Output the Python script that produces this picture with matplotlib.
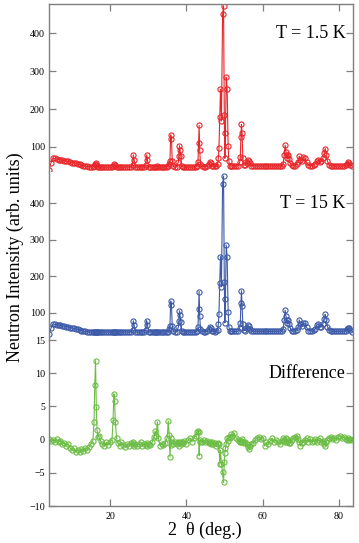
import matplotlib
matplotlib.use('Agg')
import matplotlib.pyplot as plt
import matplotlib.transforms as mtransforms

plt.rcParams['font.family'] = ['Liberation Serif', 'DejaVu Serif']

### data ###
two_theta = [
    4.0, 4.5, 5.0, 5.5, 6.0, 6.5, 7.0, 7.5, 8.0, 8.5,
    9.0, 9.5, 10.0, 10.5, 11.0, 11.5, 12.0, 12.5, 13.0, 13.5,
    14.0, 14.5, 15.0, 15.5, 15.8, 16.0, 16.2, 16.4, 16.6, 16.8,
    17.0, 17.5, 18.0, 18.5, 19.0, 19.5, 20.0, 20.5, 20.8, 21.0,
    21.2, 21.4, 21.7, 22.0, 22.5, 23.0, 23.5, 24.0, 24.5, 25.0,
    25.5, 25.9, 26.1, 26.3, 26.6, 27.0, 27.5, 28.0, 28.5, 29.0,
    29.4, 29.6, 29.8, 30.1, 30.5, 31.0, 31.5, 31.8, 32.1, 32.4,
    32.7, 33.1, 33.5, 34.0, 34.5, 35.0, 35.25, 35.5, 35.7, 35.9,
    36.1, 36.3, 36.6, 37.0, 37.5, 37.9, 38.05, 38.2, 38.35, 38.55,
    38.8, 39.0, 39.5, 40.0, 40.5, 41.0, 41.5, 42.0, 42.5, 42.8,
    43.05, 43.2, 43.35, 43.5, 43.7, 44.0, 44.5, 45.0, 45.5, 46.0,
    46.2, 46.4, 46.7, 47.0, 47.5, 47.9, 48.2, 48.4, 48.55, 48.75,
    48.95, 49.2, 49.5, 49.75, 49.95, 50.1, 50.25, 50.45, 50.7, 50.95,
    51.15, 51.4, 51.7, 52.0, 52.5, 53.0, 53.5, 54.0, 54.15, 54.3,
    54.45, 54.6, 54.8, 55.0, 55.5, 55.8, 56.1, 56.4, 56.7, 57.0,
    57.5, 58.0, 58.5, 59.0, 59.5, 60.0, 60.5, 61.0, 61.5, 62.0,
    62.5, 63.0, 63.5, 64.0, 64.5, 65.0, 65.4, 65.65, 65.9, 66.1,
    66.3, 66.5, 66.7, 66.9, 67.2, 67.6, 68.0, 68.5, 68.9, 69.3,
    69.6, 69.9, 70.3, 70.7, 71.1, 71.5, 72.0, 72.5, 73.0, 73.5,
    73.8, 74.2, 74.6, 75.0, 75.4, 75.8, 76.1, 76.4, 76.7, 77.0,
    77.4, 77.8, 78.3, 78.8, 79.3, 79.8, 80.3, 80.8, 81.3, 81.8,
    82.1, 82.4, 82.7, 83.0, 83.5,
]

counts_1p5K = [
    39, 58, 70, 70, 68, 67, 66, 65, 64, 63,
    62, 60, 59, 58, 57, 55, 54, 52, 51, 50,
    49, 48, 48, 47, 50, 55, 58, 52, 49, 48,
    48, 47, 47, 47, 47, 47, 47, 47, 50, 54,
    52, 49, 47, 47, 47, 47, 47, 47, 47, 47,
    47, 52, 79, 66, 48, 47, 47, 47, 47, 47,
    52, 79, 66, 48, 47, 47, 47, 48, 48, 49,
    48, 47, 47, 47, 47, 48, 50, 56, 62, 132,
    122, 64, 49, 47, 48, 60, 76, 103, 92, 75,
    50, 48, 47, 47, 47, 47, 47, 47, 48, 50,
    61, 110, 157, 92, 56, 49, 48, 48, 49, 56,
    61, 58, 51, 49, 49, 50, 55, 72, 97, 180,
    252, 169, 450, 472, 185, 70, 136, 284, 254, 103,
    62, 51, 50, 50, 50, 50, 50, 60, 74, 126,
    160, 136, 70, 53, 52, 58, 66, 64, 57, 51,
    50, 50, 50, 50, 50, 50, 50, 50, 50, 50,
    50, 50, 50, 50, 50, 51, 56, 80, 105, 88,
    79, 70, 80, 68, 58, 52, 50, 51, 54, 60,
    76, 66, 64, 74, 70, 60, 52, 51, 51, 53,
    56, 62, 66, 60, 62, 70, 83, 96, 80, 62,
    53, 51, 50, 50, 50, 50, 50, 50, 50, 52,
    56, 60, 58, 53, 49,
]

counts_15K = [
    41, 57, 69, 68, 67, 66, 65, 64, 63, 62,
    61, 59, 58, 57, 56, 54, 53, 51, 50, 49,
    48, 47, 47, 47, 47, 47, 47, 47, 47, 47,
    47, 47, 47, 47, 47, 47, 47, 47, 47, 47,
    47, 47, 47, 47, 47, 47, 47, 47, 47, 47,
    47, 52, 78, 66, 48, 47, 47, 47, 47, 47,
    52, 78, 67, 48, 47, 47, 47, 47, 47, 47,
    47, 47, 47, 47, 47, 47, 48, 55, 64, 132,
    121, 64, 49, 47, 48, 60, 76, 105, 93, 74,
    50, 48, 47, 47, 47, 47, 47, 47, 48, 50,
    60, 110, 158, 92, 56, 49, 48, 48, 49, 56,
    61, 58, 51, 49, 48, 50, 53, 69, 96, 182,
    254, 171, 453, 475, 185, 72, 137, 286, 252, 103,
    62, 50, 49, 49, 49, 49, 49, 58, 72, 126,
    160, 118, 70, 52, 51, 57, 65, 63, 56, 50,
    49, 49, 49, 49, 49, 49, 49, 49, 49, 49,
    49, 49, 49, 49, 49, 50, 55, 80, 107, 92,
    80, 72, 80, 70, 58, 51, 49, 50, 53, 60,
    80, 68, 64, 72, 71, 60, 51, 50, 50, 52,
    55, 66, 68, 60, 61, 70, 84, 96, 80, 62,
    52, 50, 49, 49, 49, 49, 49, 49, 49, 51,
    55, 58, 57, 52, 48,
]

difference = [
    0.1, -0.2, 0.0, -0.3, 0.1, -0.4, -0.2, -0.7, -0.5, -1.0,
    -0.6, -1.2, -1.6, -1.3, -1.9, -1.5, -1.8, -1.4, -1.7, -1.2,
    -1.5, -1.1, -0.6, -0.2, 2.7, 8.3, 11.9, 4.9, 1.4, 0.4,
    0.6, -0.2, -0.6, -1.0, -0.4, -0.8, -0.3, -0.1, 3.0, 6.9,
    5.8, 2.6, 0.3, -0.5, -0.9, -0.4, -0.8, -1.1, -0.6, -0.9,
    -0.5, -0.7, -0.3, -0.9, -0.6, -1.0, -0.7, -0.4, -0.9, -0.6,
    -0.8, -0.5, -1.0, -0.6, -0.8, -0.4, 0.4, 1.3, 0.6, 2.7,
    0.2, -0.9, -0.6, -0.8, -0.5, 0.3, 2.8, 0.7, -2.6, 0.2,
    -0.8, -0.4, -0.6, -0.3, -0.6, -0.3, -0.5, -0.9, -0.4, -0.7,
    -0.3, -0.5, -0.2, -0.6, -0.1, 0.2, -0.3, 0.3, 0.6, 1.1,
    1.3, 1.2, -2.4, -0.4, 0.0, -0.3, -0.1, -0.4, -0.2, -0.5,
    -0.3, -0.6, -0.4, -0.7, -0.5, -0.95, -0.6, -0.5, -0.7, -3.7,
    -1.6, -3.7, -4.95, -6.45, -3.4, -2.0, -1.2, -0.6, 0.2, -0.2,
    0.4, 0.3, 0.8, 0.5, 1.0, 0.3, -0.1, -0.3, -0.2, -0.4,
    -0.2, 0.1, -0.3, -0.5, -0.4, -0.7, -1.1, -1.45, -0.9, -0.6,
    -0.45, -0.1, 0.2, 0.4, 0.1, 0.3, -0.95, -0.4, -0.6, -0.2,
    0.2, -0.3, 0.0, -0.4, -0.7, -0.2, 0.3, -0.1, -0.4, 0.2,
    -0.3, 0.1, -0.2, -0.5, -0.45, -0.1, 0.2, 0.4, 0.55, 0.1,
    -0.4, -0.95, -0.5, -0.3, 0.0, 0.2, -0.3, 0.1, -0.4, -0.2,
    0.1, -0.3, 0.0, 0.2, -0.4, -0.2, -0.6, -0.95, -0.4, 0.0,
    0.3, 0.4, 0.1, 0.3, 0.0, 0.4, 0.55, 0.2, 0.4, 0.1,
    0.0, 0.2, -0.1, 0.1, 0.0,
]

panel_labels = ['T = 1.5 K', 'T = 15 K', 'Difference']
x_ticks = [20, 40, 60, 80]

### panel setup ###
series = [counts_1p5K, counts_15K, difference]
colors = ['#e8262a', '#3d5aa8', '#6cbd45']
ylims = [(34, 477), (25, 486), (-10, 15)]
yticks = [[100, 200, 300, 400], [100, 200, 300, 400], [-10, -5, 0, 5, 10, 15]]
label_y = [400, 400, 10]
bottoms = [0.6832, 0.3738, 0.0681]
heights = [0.3094, 0.3094, 0.3057]

spine_col = '#7f7f7f'
fig = plt.figure(figsize=(3.59, 5.43), dpi=100)

axes = []
for i in range(3):
    ax = fig.add_axes([0.1365, bottoms[i], 0.848, heights[i]],
                      sharex=axes[0] if axes else None)
    axes.append(ax)
    ax.plot(two_theta, series[i], '-o', color=colors[i], lw=0.8,
            ms=3.7, mfc='none', mew=0.8)
    ax.set_xlim(4, 83.8)
    ax.set_ylim(*ylims[i])
    ax.set_yticks(yticks[i])
    ax.set_xticks(x_ticks)
    for s in ax.spines.values():
        s.set_color(spine_col)
        s.set_linewidth(1.0)
    ax.spines['top'].set_visible(i == 0)
    ax.spines['bottom'].set_visible(i == 2)
    ax.tick_params(direction='in', length=5, width=0.9, color=spine_col,
                   labelsize=7.2, pad=3, right=True,
                   top=(i == 0), bottom=(i == 2), labelbottom=(i == 2))
    tr = mtransforms.blended_transform_factory(ax.transAxes, ax.transData)
    ax.text(0.975, label_y[i], panel_labels[i], transform=tr,
            ha='right', va='center', fontsize=13)

axes[2].tick_params(axis='x', pad=4)

fig.text(0.042, 0.527, 'Neutron Intensity (arb. units)', rotation=90,
         ha='center', va='center', fontsize=13)
fig.text(0.571, 0.024, '2  θ (deg.)', ha='center', va='center', fontsize=13)

fig.savefig('out.png', dpi=100)
plt.close()
